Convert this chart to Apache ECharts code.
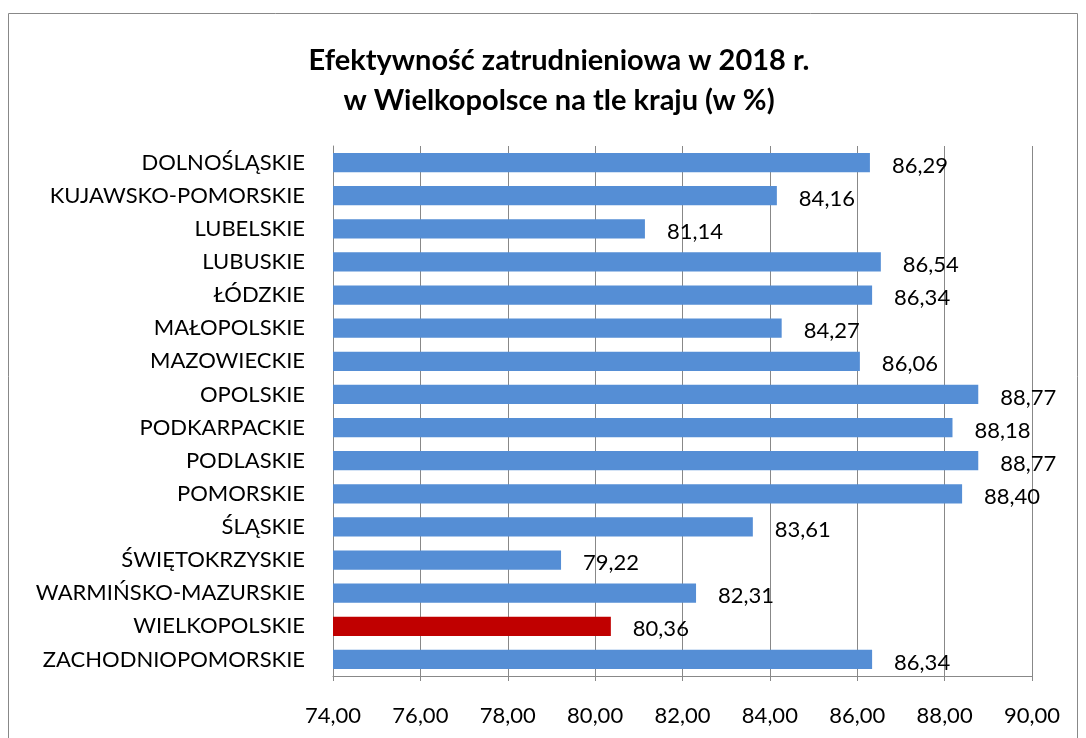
<!DOCTYPE html>
<html>
<head>
<meta charset="utf-8">
<script src="https://cdn.jsdelivr.net/npm/echarts@6/dist/echarts.min.js"></script>
<style>
  html, body { margin: 0; padding: 0; background: #fff; }
  #chart { width: 1086px; height: 738px; }
</style>
</head>
<body>
<div id="chart"></div>
<script>
const categories = [
  'DOLNOŚLĄSKIE', 'KUJAWSKO-POMORSKIE', 'LUBELSKIE', 'LUBUSKIE', 'ŁÓDZKIE',
  'MAŁOPOLSKIE', 'MAZOWIECKIE', 'OPOLSKIE', 'PODKARPACKIE', 'PODLASKIE',
  'POMORSKIE', 'ŚLĄSKIE', 'ŚWIĘTOKRZYSKIE', 'WARMIŃSKO-MAZURSKIE',
  'WIELKOPOLSKIE', 'ZACHODNIOPOMORSKIE'
]
const values = [86.29, 84.16, 81.14, 86.54, 86.34, 84.27, 86.06, 88.77, 88.18,
  88.77, 88.40, 83.61, 79.22, 82.31, 80.36, 86.34]
const highlight = 'WIELKOPOLSKIE'

const FONT = 'Lato'
const fmt = (v) => v.toFixed(2).replace('.', ',')

let chart = echarts.init(document.getElementById('chart'))
let option = {
  animation: false,
  textStyle: { fontFamily: FONT },
  graphic: [
    {
      type: 'rect',
      shape: { x: 8.5, y: 13.5, width: 1069, height: 740 },
      style: { fill: 'none', stroke: '#888', lineWidth: 1 },
    },
  ],
  title: {
    text: 'Efektywność zatrudnieniowa w 2018 r.\nw Wielkopolsce na tle kraju (w %)',
    left: 554,
    textAlign: 'center',
    top: 36,
    textStyle: {
      fontFamily: FONT,
      fontWeight: 'bold',
      fontSize: 29,
      lineHeight: 40,
      color: '#000',
    },
  },
  grid: {
    left: 333,
    right: 54,
    top: 146,
    bottom: 62,
    containLabel: false,
  },
  xAxis: {
    type: 'value',
    min: 74,
    max: 90,
    interval: 2,
    axisLabel: {
      formatter: (v) => fmt(v),
      color: '#000',
      fontSize: 22,
      margin: 29,
    },
    axisLine: { show: true, lineStyle: { color: '#888' } },
    axisTick: { show: true, length: 5, lineStyle: { color: '#888' } },
    splitLine: { show: true, lineStyle: { color: '#888', width: 1 } },
  },
  yAxis: {
    type: 'category',
    inverse: true,
    data: categories,
    axisLabel: { color: '#000', fontSize: 22, margin: 28 },
    axisLine: { show: true, lineStyle: { color: '#888' } },
    axisTick: { show: false },
  },
  series: [
    {
      type: 'bar',
      barWidth: '58%',
      data: values.map((v, i) => ({
        value: v,
        itemStyle: { color: categories[i] === highlight ? '#C00000' : '#558ED5' },
      })),
      label: {
        show: true,
        position: 'right',
        distance: 22,
        offset: [0, 3],
        formatter: (p) => fmt(p.value),
        color: '#000',
        fontSize: 22,
      },
    },
  ],
}
chart.setOption(option)
</script>
</body>
</html>
